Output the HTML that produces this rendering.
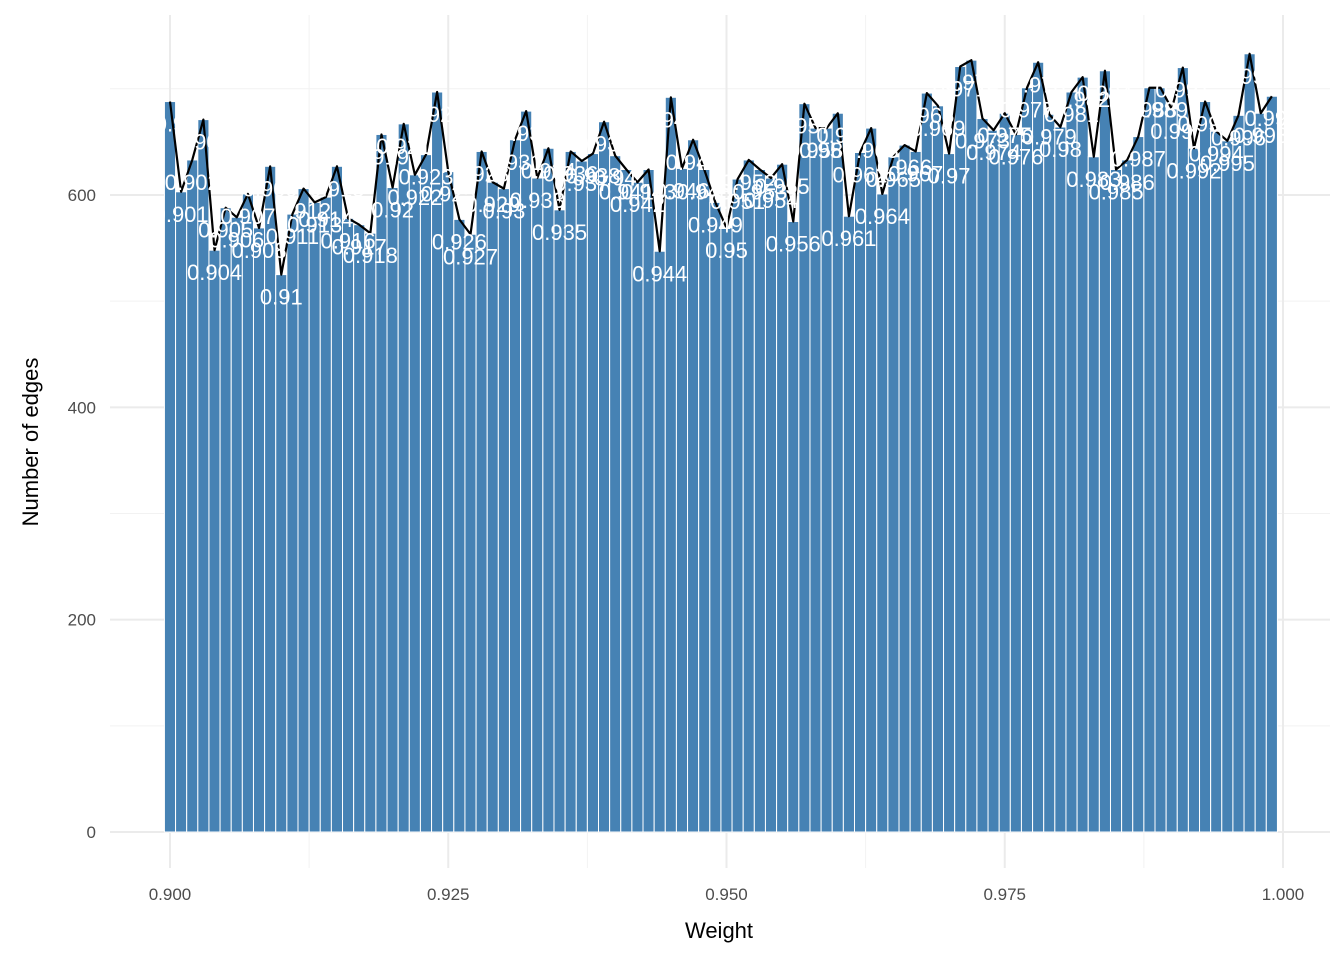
<!DOCTYPE html>
<html><head><meta charset="utf-8"><style>
body{margin:0;background:#fff;}
svg{display:block;font-family:"Liberation Sans","DejaVu Sans",sans-serif;}
</style></head><body>
<svg id="chart" width="1344" height="960"></svg>
<script>
const weights = [];
for (let i = 0; i < 100; i++) weights.push(+(0.9 + i * 0.001).toFixed(3));
const counts = [688,603,633,671,548,588,579,601,569,627,
525,582,606,593,598,627,578,572,564,657,
607,667,619,638,697,622,577,563,641,612,
606,652,679,616,644,586,641,632,639,669,
637,624,612,624,547,692,625,652,624,593,
569,615,633,624,616,629,575,686,663,663,
677,580,640,663,601,636,647,641,696,684,
639,721,727,672,661,677,657,701,725,676,
664,697,711,636,717,624,633,655,701,701,
681,720,644,688,660,651,675,733,677,693];
const xTicks = [0.9, 0.925, 0.95, 0.975, 1.0];
const xTickLabels = ["0.900","0.925","0.950","0.975","1.000"];
const yTicks = [0, 200, 400, 600];

const NS = "http://www.w3.org/2000/svg";
const svg = document.getElementById("chart");
const X = v => 170 + (v - 0.9) / 0.1 * 1113;
const Y = v => 832 - v * 1.0617;
function mk(tag, attrs, parent) {
  const e = document.createElementNS(NS, tag);
  for (const k in attrs) e.setAttribute(k, attrs[k]);
  (parent || svg).appendChild(e);
  return e;
}
const grid = mk("g", {});


for (let v = 0.9125; v < 1.0; v += 0.025) mk("line", {x1: X(v), x2: X(v), y1: 15, y2: 868, stroke: "#f2f2f2", "stroke-width": 1}, grid);
for (const v of [100, 300, 500, 700]) mk("line", {x1: 110, x2: 1330, y1: Y(v), y2: Y(v), stroke: "#f2f2f2", "stroke-width": 1}, grid);
xTicks.forEach(v => mk("line", {x1: X(v), x2: X(v), y1: 15, y2: 868, stroke: "#ebebeb", "stroke-width": 2}, grid));
yTicks.forEach(v => mk("line", {x1: 110, x2: 1330, y1: Y(v), y2: Y(v), stroke: "#ebebeb", "stroke-width": 2}, grid));

const bw = 1113 / 100;
const bars = mk("g", {});


weights.forEach((w, i) => {
  const r = mk("rect", {x: X(w) - bw / 2, y: Y(counts[i]), width: bw, height: Y(0) - Y(counts[i]), fill: "#4682b4", stroke: "#fff", "stroke-width": 1}, bars);
  
  
});
const pts = weights.map((w, i) => X(w) + "," + Y(counts[i])).join(" ");
const line = mk("polyline", {points: pts, fill: "none", stroke: "#000", "stroke-width": 2.2, "stroke-linejoin": "round"});


const labs = mk("g", {});


weights.forEach((w, i) => {
  const t = mk("text", {x: X(w), y: Y(counts[i]) + 30, "text-anchor": "middle", "font-size": 22, fill: "#fff"}, labs);
  
  
  t.textContent = String(w);
});
xTicks.forEach((v, i) => {
  const t = mk("text", {x: X(v), y: 900, "text-anchor": "middle", "font-size": 17, fill: "#4d4d4d"});
  
  
  t.textContent = xTickLabels[i];
});
yTicks.forEach(v => {
  const t = mk("text", {x: 96, y: Y(v) + 6, "text-anchor": "end", "font-size": 17, fill: "#4d4d4d"});
  
  
  t.textContent = String(v);
});
const xt = mk("text", {x: 719, y: 938, "text-anchor": "middle", "font-size": 22, fill: "#000"});


xt.textContent = "Weight";
const yt = mk("text", {x: 38, y: 442, "text-anchor": "middle", "font-size": 22, fill: "#000", transform: "rotate(-90 38 442)"});


yt.textContent = "Number of edges";
</script>
</body></html>
